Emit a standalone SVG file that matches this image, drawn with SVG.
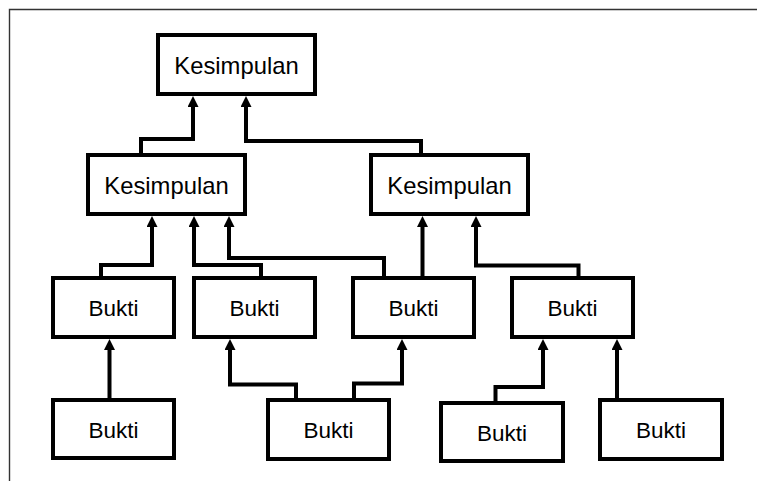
<svg xmlns="http://www.w3.org/2000/svg" width="757" height="481" viewBox="0 0 757 481">
<style>
.box{fill:#fff;stroke:#000;stroke-width:4}
.lbl{font-family:"Liberation Sans",Arial,sans-serif;font-size:22.5px;fill:#000;text-anchor:middle}
.big{font-size:23.8px}
.con{fill:none;stroke:#000;stroke-width:4;stroke-linejoin:miter;marker-end:url(#ah)}
</style>
<defs>
<marker id="ah" markerUnits="userSpaceOnUse" markerWidth="12" markerHeight="12" refX="5" refY="5.5" orient="auto">
<path d="M0,0 L11,5.5 L0,11 z" fill="#000"/>
</marker>
</defs>
<rect width="757" height="481" fill="#fff"/>
<path d="M9.5,481 V9.5 H757" fill="none" stroke="#333" stroke-width="1.4"/>
<g id="connectors">
<path class="con" d="M141,155 V139 H193 V102"/>
<path class="con" d="M421,155 V141 H246 V102"/>
<path class="con" d="M101,278 V265 H152 V222"/>
<path class="con" d="M261,278 V265 H194 V222"/>
<path class="con" d="M384,278 V258 H229 V222"/>
<path class="con" d="M422.5,278 V222"/>
<path class="con" d="M578.5,278 V265.5 H476 V222"/>
<path class="con" d="M109.5,400 V345"/>
<path class="con" d="M296,400 V384.5 H230 V345"/>
<path class="con" d="M354,400 V383.5 H402 V345"/>
<path class="con" d="M495.5,403 V387 H543 V345"/>
<path class="con" d="M617,400 V345"/>
</g>
<g id="k_top"><rect class="box" x="158" y="35" width="157" height="59"/><text class="lbl big" x="236.5" y="74">Kesimpulan</text></g>
<g id="k_left"><rect class="box" x="88" y="155" width="157" height="59"/><text class="lbl big" x="166.5" y="194">Kesimpulan</text></g>
<g id="k_right"><rect class="box" x="371" y="155" width="157" height="59"/><text class="lbl big" x="449.5" y="194">Kesimpulan</text></g>
<g id="b1"><rect class="box" x="53" y="278" width="121" height="59"/><text class="lbl" x="113.5" y="316">Bukti</text></g>
<g id="b2"><rect class="box" x="194" y="278" width="121" height="59"/><text class="lbl" x="254.5" y="316">Bukti</text></g>
<g id="b3"><rect class="box" x="353" y="278" width="121" height="59"/><text class="lbl" x="413.5" y="316">Bukti</text></g>
<g id="b4"><rect class="box" x="512" y="278" width="121" height="59"/><text class="lbl" x="572.5" y="316">Bukti</text></g>
<g id="c1"><rect class="box" x="53" y="400" width="121" height="58"/><text class="lbl" x="113.5" y="438">Bukti</text></g>
<g id="c2"><rect class="box" x="268" y="400" width="121" height="59"/><text class="lbl" x="328.5" y="438">Bukti</text></g>
<g id="c3"><rect class="box" x="441" y="403" width="122" height="58"/><text class="lbl" x="502" y="441">Bukti</text></g>
<g id="c4"><rect class="box" x="600" y="400" width="122" height="59"/><text class="lbl" x="661" y="438">Bukti</text></g>
</svg>
